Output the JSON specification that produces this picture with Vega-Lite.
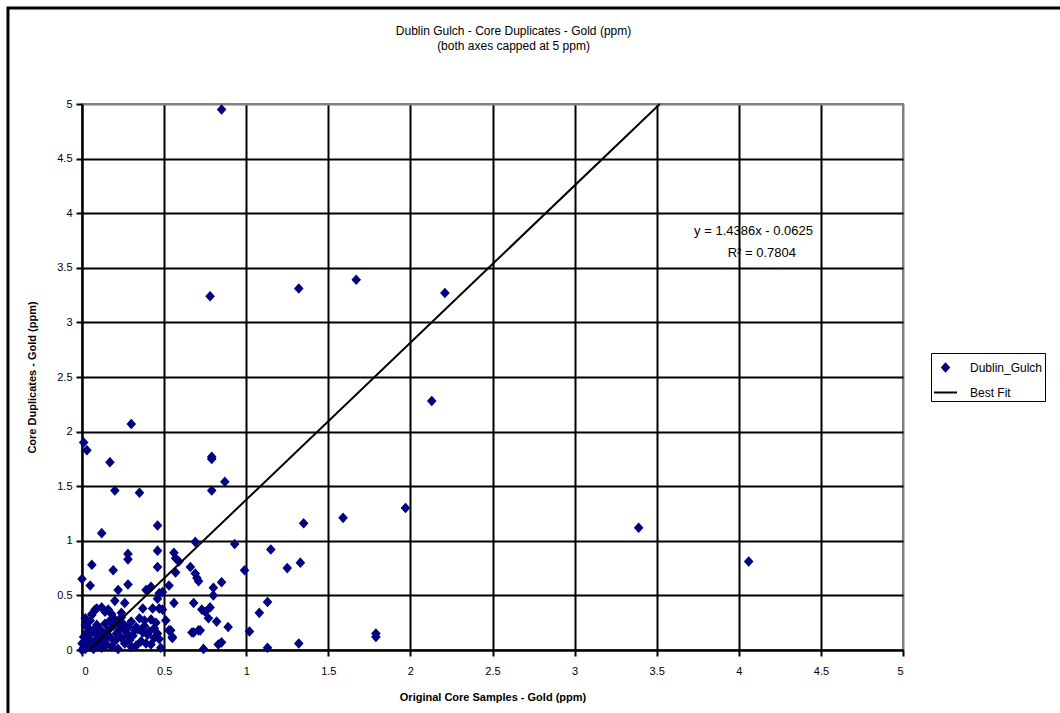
{
  "$schema": "https://vega.github.io/schema/vega-lite/v6.json",
  "width": 821,
  "height": 546,
  "autosize": {"type": "none"},
  "padding": {"left": 82, "top": 104, "right": 157, "bottom": 63},
  "background": "white",
  "title": {
    "text": "Dublin Gulch - Core Duplicates - Gold (ppm)",
    "subtitle": "(both axes capped at 5 ppm)",
    "anchor": "middle",
    "frame": "group",
    "dx": 21,
    "offset": -46,
    "font": "Liberation Sans",
    "fontSize": 12,
    "fontWeight": "normal",
    "color": "black",
    "subtitleFont": "Liberation Sans",
    "subtitleFontSize": 12,
    "subtitleColor": "black",
    "subtitlePadding": 3
  },
  "config": {
    "view": {"stroke": "#808080", "strokeWidth": 2},
    "font": "Liberation Sans"
  },
  "datasets": {
    "pts": [
      {"x": 0.85, "y": 4.95}, {"x": 0.78, "y": 3.24}, {"x": 1.32, "y": 3.31}, {"x": 1.67, "y": 3.39}, {"x": 2.21, "y": 3.27},
      {"x": 2.13, "y": 2.28}, {"x": 0.30, "y": 2.07}, {"x": 0.01, "y": 1.90}, {"x": 0.03, "y": 1.83}, {"x": 0.17, "y": 1.72},
      {"x": 0.20, "y": 1.46}, {"x": 0.35, "y": 1.44}, {"x": 0.79, "y": 1.75}, {"x": 0.79, "y": 1.77}, {"x": 0.87, "y": 1.54},
      {"x": 0.79, "y": 1.46}, {"x": 0.46, "y": 1.14}, {"x": 0.12, "y": 1.07}, {"x": 3.39, "y": 1.12}, {"x": 4.06, "y": 0.81},
      {"x": 1.97, "y": 1.30}, {"x": 1.59, "y": 1.21}, {"x": 1.35, "y": 1.16}, {"x": 0.69, "y": 0.99}, {"x": 0.93, "y": 0.97},
      {"x": 1.15, "y": 0.92}, {"x": 0.56, "y": 0.89}, {"x": 0.57, "y": 0.84}, {"x": 0.59, "y": 0.81}, {"x": 0.66, "y": 0.76},
      {"x": 0.99, "y": 0.73}, {"x": 1.25, "y": 0.75}, {"x": 1.33, "y": 0.80}, {"x": 0.57, "y": 0.71}, {"x": 0.69, "y": 0.70},
      {"x": 0.70, "y": 0.66}, {"x": 0.71, "y": 0.63}, {"x": 0.85, "y": 0.62}, {"x": 0.53, "y": 0.59}, {"x": 0.80, "y": 0.57},
      {"x": 0.80, "y": 0.50}, {"x": 0.49, "y": 0.53}, {"x": 0.56, "y": 0.43}, {"x": 0.68, "y": 0.43}, {"x": 0.78, "y": 0.39},
      {"x": 0.73, "y": 0.37}, {"x": 0.75, "y": 0.35}, {"x": 0.49, "y": 0.37}, {"x": 1.13, "y": 0.44}, {"x": 1.08, "y": 0.34},
      {"x": 0.77, "y": 0.29}, {"x": 0.82, "y": 0.26}, {"x": 0.51, "y": 0.27}, {"x": 0.89, "y": 0.21}, {"x": 0.54, "y": 0.18},
      {"x": 0.72, "y": 0.18}, {"x": 0.68, "y": 0.16}, {"x": 1.02, "y": 0.17}, {"x": 0.55, "y": 0.11}, {"x": 0.85, "y": 0.07},
      {"x": 0.83, "y": 0.05}, {"x": 0.74, "y": 0.01}, {"x": 1.13, "y": 0.02}, {"x": 1.32, "y": 0.06}, {"x": 1.79, "y": 0.12},
      {"x": 1.79, "y": 0.15}, {"x": 0.28, "y": 0.88}, {"x": 0.28, "y": 0.83}, {"x": 0.46, "y": 0.91}, {"x": 0.06, "y": 0.78},
      {"x": 0.19, "y": 0.73}, {"x": 0.46, "y": 0.76}, {"x": 0.00, "y": 0.65}, {"x": 0.05, "y": 0.59}, {"x": 0.28, "y": 0.60},
      {"x": 0.22, "y": 0.55}, {"x": 0.39, "y": 0.55}, {"x": 0.42, "y": 0.58}, {"x": 0.46, "y": 0.47}, {"x": 0.47, "y": 0.52},
      {"x": 0.20, "y": 0.45}, {"x": 0.26, "y": 0.43}, {"x": 0.09, "y": 0.38}, {"x": 0.14, "y": 0.35}, {"x": 0.37, "y": 0.38},
      {"x": 0.43, "y": 0.38}, {"x": 0.47, "y": 0.38}, {"x": 0.06, "y": 0.32}, {"x": 0.24, "y": 0.34}, {"x": 0.38, "y": 0.27},
      {"x": 0.42, "y": 0.28}, {"x": 0.02, "y": 0.29}, {"x": 0.33, "y": 0.21}, {"x": 0.37, "y": 0.18}, {"x": 0.41, "y": 0.17},
      {"x": 0.44, "y": 0.11}, {"x": 0.53, "y": 0.18}, {"x": 0.55, "y": 0.12}, {"x": 0.67, "y": 0.16}, {"x": 0.71, "y": 0.18},
      {"x": 0.00, "y": 0.00}, {"x": 0.01, "y": 0.02}, {"x": 0.02, "y": 0.01}, {"x": 0.03, "y": 0.04}, {"x": 0.02, "y": 0.07},
      {"x": 0.04, "y": 0.10}, {"x": 0.05, "y": 0.03}, {"x": 0.06, "y": 0.06}, {"x": 0.07, "y": 0.01}, {"x": 0.08, "y": 0.09},
      {"x": 0.09, "y": 0.04}, {"x": 0.10, "y": 0.12}, {"x": 0.11, "y": 0.07}, {"x": 0.12, "y": 0.02}, {"x": 0.13, "y": 0.15},
      {"x": 0.14, "y": 0.10}, {"x": 0.15, "y": 0.05}, {"x": 0.16, "y": 0.18}, {"x": 0.17, "y": 0.12}, {"x": 0.18, "y": 0.03},
      {"x": 0.19, "y": 0.22}, {"x": 0.20, "y": 0.08}, {"x": 0.21, "y": 0.15}, {"x": 0.22, "y": 0.01}, {"x": 0.23, "y": 0.19},
      {"x": 0.24, "y": 0.11}, {"x": 0.25, "y": 0.24}, {"x": 0.26, "y": 0.06}, {"x": 0.27, "y": 0.16}, {"x": 0.28, "y": 0.21},
      {"x": 0.29, "y": 0.09}, {"x": 0.30, "y": 0.26}, {"x": 0.31, "y": 0.13}, {"x": 0.33, "y": 0.04}, {"x": 0.34, "y": 0.19},
      {"x": 0.35, "y": 0.29}, {"x": 0.36, "y": 0.08}, {"x": 0.38, "y": 0.22}, {"x": 0.40, "y": 0.14}, {"x": 0.42, "y": 0.05},
      {"x": 0.45, "y": 0.25}, {"x": 0.47, "y": 0.10}, {"x": 0.48, "y": 0.02}, {"x": 0.05, "y": 0.27}, {"x": 0.06, "y": 0.33},
      {"x": 0.08, "y": 0.37}, {"x": 0.12, "y": 0.39}, {"x": 0.16, "y": 0.37}, {"x": 0.18, "y": 0.33}, {"x": 0.17, "y": 0.27},
      {"x": 0.14, "y": 0.24}, {"x": 0.09, "y": 0.23}, {"x": 0.04, "y": 0.20}, {"x": 0.03, "y": 0.16}, {"x": 0.01, "y": 0.12},
      {"x": 0.00, "y": 0.06}, {"x": 0.02, "y": 0.23}, {"x": 0.07, "y": 0.18}, {"x": 0.11, "y": 0.19}, {"x": 0.13, "y": 0.04},
      {"x": 0.05, "y": 0.14}, {"x": 0.09, "y": 0.15}, {"x": 0.20, "y": 0.28}, {"x": 0.22, "y": 0.24}, {"x": 0.24, "y": 0.30},
      {"x": 0.26, "y": 0.20}, {"x": 0.28, "y": 0.13}, {"x": 0.30, "y": 0.03}, {"x": 0.32, "y": 0.18}, {"x": 0.37, "y": 0.16},
      {"x": 0.39, "y": 0.06}, {"x": 0.44, "y": 0.20}, {"x": 0.46, "y": 0.15}
    ],
    "fit": [
      {"x": 0.0434, "y": 0},
      {"x": 3.519, "y": 5}
    ],
    "notes": [
      {"x": 4.09, "y": 3.84, "label": "y = 1.4386x - 0.0625"},
      {"x": 4.14, "y": 3.64, "label": "R² = 0.7804"}
    ],
    "frame": [
      {"x0": -0.4507, "x1": 5.968, "y0": -0.6, "y1": 5.879}
    ]
  },
  "encoding": {
    "x": {
      "field": "x", "type": "quantitative",
      "scale": {"domain": [0, 5], "nice": false, "zero": false},
      "axis": {
        "title": "Original Core Samples - Gold (ppm)",
        "values": [0, 0.5, 1, 1.5, 2, 2.5, 3, 3.5, 4, 4.5, 5],
        "format": "~g",
        "grid": true,
        "gridColor": {"condition": {"test": "datum.value == 5", "value": "#808080"}, "value": "black"},
        "gridWidth": 2,
        "gridOpacity": 1,
        "domainColor": "black", "domainWidth": 2,
        "tickColor": "black", "tickWidth": 2, "tickSize": 6,
        "labelFont": "Liberation Sans", "labelFontSize": 11, "labelColor": "black", "labelPadding": 9,
        "titleFont": "Liberation Sans", "titleFontSize": 11, "titleFontWeight": "bold", "titleColor": "black", "titlePadding": 15
      }
    },
    "y": {
      "field": "y", "type": "quantitative",
      "scale": {"domain": [0, 5], "nice": false, "zero": false},
      "axis": {
        "title": "Core Duplicates - Gold (ppm)",
        "values": [0, 0.5, 1, 1.5, 2, 2.5, 3, 3.5, 4, 4.5, 5],
        "format": "~g",
        "grid": true,
        "gridColor": {"condition": {"test": "datum.value == 5", "value": "#808080"}, "value": "black"},
        "gridWidth": 2,
        "gridOpacity": 1,
        "domainColor": "black", "domainWidth": 2,
        "tickColor": "black", "tickWidth": 2, "tickSize": 6,
        "labelFont": "Liberation Sans", "labelFontSize": 11, "labelColor": "black", "labelPadding": 4,
        "titleFont": "Liberation Sans", "titleFontSize": 11, "titleFontWeight": "bold", "titleColor": "black", "titlePadding": 19
      }
    }
  },
  "layer": [
    {
      "data": {"name": "frame"},
      "mark": {"type": "rect", "fillOpacity": 0, "stroke": "black", "strokeWidth": 3, "clip": false},
      "encoding": {
        "x": {"field": "x0", "type": "quantitative"},
        "x2": {"field": "x1"},
        "y": {"field": "y1", "type": "quantitative"},
        "y2": {"field": "y0"}
      }
    },
    {
      "data": {"name": "pts"},
      "mark": {"type": "point", "filled": false, "fill": "#000080", "fillOpacity": 1, "strokeWidth": 1.5, "opacity": 1, "size": 640},
      "encoding": {
        "color": {
          "datum": "Dublin_Gulch", "type": "nominal",
          "scale": {"domain": ["Dublin_Gulch", "Best Fit"], "range": ["#000080", "#000000"]},
          "legend": {
            "title": null,
            "orient": "none",
            "legendX": 849,
            "legendY": 249,
            "strokeColor": "black",
            "fillColor": "white",
            "padding": 2,
            "labelFont": "Liberation Sans",
            "labelFontSize": 12,
            "labelColor": "black",
            "labelOffset": 12,
            "symbolSize": 529,
            "symbolStrokeWidth": 2,
            "rowPadding": 4
          }
        },
        "shape": {
          "datum": "Dublin_Gulch", "type": "nominal",
          "scale": {"domain": ["Dublin_Gulch", "Best Fit"], "range": ["M0,-0.33L0.3,0L0,0.33L-0.3,0Z", "M-1,0L1,0"]},
          "legend": null
        }
      }
    },
    {
      "data": {"name": "fit"},
      "mark": {"type": "line", "color": "black", "strokeWidth": 2},
      "encoding": {
        "color": {"datum": "Best Fit", "type": "nominal"}
      }
    },
    {
      "data": {"name": "notes"},
      "mark": {"type": "text", "font": "Liberation Sans", "fontSize": 13, "color": "black", "align": "center", "baseline": "middle"},
      "encoding": {
        "text": {"field": "label"}
      }
    }
  ]
}
